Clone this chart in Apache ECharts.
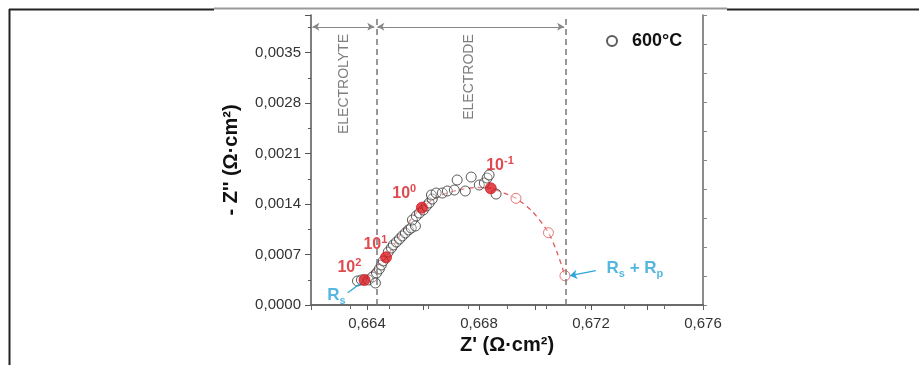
<!DOCTYPE html>
<html><head><meta charset="utf-8">
<script src="https://cdn.jsdelivr.net/npm/echarts@6/dist/echarts.min.js"></script>
<style>html,body{margin:0;padding:0;background:#fff}#c{width:919px;height:365px}</style>
</head><body><div id="c"></div>
<script>
// Experimental impedance points (Z', -Z'')
const expZre = [0.66366,0.66380,0.66405,0.66419,0.66430,0.66434,0.66444,0.66451,0.66458,0.66476,0.66487,0.66494,0.66505,0.66516,0.66526,0.66537,0.66548,0.66558,0.66573,0.66562,0.66576,0.66587,0.66601,0.66612,0.66622,0.66633,0.66630,0.66647,0.66669,0.66687,0.66712,0.66722,0.66751,0.66772,0.66801,0.66819,0.66829,0.66836,0.66861];
const expZim = [0.000333,0.000347,0.000347,0.000388,0.000305,0.000444,0.000499,0.000554,0.000610,0.000735,0.000790,0.000832,0.000873,0.000915,0.000956,0.000998,0.001040,0.001067,0.001095,0.001178,0.001234,0.001275,0.001317,0.001372,0.001414,0.001469,0.001525,0.001552,0.001552,0.001580,0.001594,0.001733,0.001580,0.001774,0.001663,0.001691,0.001760,0.001802,0.001538];
// Fitted arc
const fitZre = [0.66391,0.66430,0.66468,0.66516,0.66558,0.66596,0.66658,0.66729,0.66794,0.66842,0.66890,0.66932,0.66991,0.67048,0.67080,0.67107];
const fitZim = [0.000347,0.000513,0.000661,0.000956,0.001192,0.001349,0.001511,0.001594,0.001629,0.001618,0.001552,0.001479,0.001293,0.001002,0.000717,0.000406];
// Extrapolated (open red) points
const extZre = [0.66932,0.67048,0.67107];
const extZim = [0.001479,0.001002,0.000406];
// Frequency markers
const freqZre = [0.66391,0.66468,0.66596,0.66842];
const freqZim = [0.000347,0.000661,0.001349,0.001618];
const freqExp = ['2','1','0','-1'];
const freqLabelZre = [0.66337,0.66430,0.66533,0.66875];
const freqLabelZim = [0.000513,0.000832,0.001538,0.001927];
// Region boundaries and labels
const boundaryZre = [0.66436,0.67110];
const regionNames = ['ELECTROLYTE','ELECTRODE'];
const regionLabelZre = [0.66319,0.66765];
const regionLabelZim = [0.003063,0.003160];
const arrowZim = 0.003857;
const arrowStart = [0.66205,0.66437];
const arrowEnd = [0.66426,0.67104];
// Resistance annotations
const resLabelZre = [0.66291,0.67357];
const resLabelZim = [0.000139,0.000513];
const resText = ['{r|R}{s|s}','{r|R}{s|s}{r| + R}{s|p}'];
const resPtrFrom = [[0.66378,0.000301],[0.67217,0.000475]];
const resPtrTo = [[0.66331,0.000170],[0.67125,0.000406]];
const Y_MIN = 0, Y_MAX = 0.00402;

const zip = (a,b) => a.map((v,i)=>[v,b[i]]);
const FONT = 'Liberation Sans, Arial, sans-serif';
const RED = '#d81c22';
const CYAN = '#2aa5d8';

const annData = [];
freqExp.forEach((e,i)=>annData.push({value:[freqLabelZre[i],freqLabelZim[i]],
  label:{formatter:'{b|10}{sup|'+e+'}'}}));
regionNames.forEach((n,i)=>annData.push({value:[regionLabelZre[i],regionLabelZim[i]],
  label:{formatter:n, rotate:90, color:'#5e5e5e', fontSize:14, fontWeight:'normal'}}));
resText.forEach((t,i)=>annData.push({value:[resLabelZre[i],resLabelZim[i]], label:{formatter:t}}));

const chart = echarts.init(document.getElementById('c'), null, {renderer:'canvas'});
chart.setOption({
  animation:false,
  backgroundColor:'#fff',
  textStyle:{fontFamily:FONT},
  grid:{left:311, right:216, top:15, bottom:60},
  legend:{
    data:['600°C'], left:601, top:27, itemWidth:10, itemHeight:10, icon:'circle',
    textStyle:{fontSize:18, fontWeight:'bold', color:'#111', fontFamily:FONT, padding:[0,0,0,10]}
  },
  xAxis:[{
    type:'value', min:0.662, max:0.676, interval:0.002,
    name:"Z' (Ω·cm²)", nameLocation:'middle', nameGap:30,
    nameTextStyle:{fontSize:20, fontWeight:'bold', color:'#111', fontFamily:FONT},
    axisLine:{lineStyle:{color:'#555', width:1.5}},
    axisTick:{show:true, inside:false, length:5, lineStyle:{color:'#555'}},
    splitLine:{show:false},
    axisLabel:{fontSize:15, color:'#333', margin:11, fontFamily:FONT,
      formatter:v=>{const k=Math.round(v*1000); return (k%4===0)? (k/1000).toFixed(3).replace('.',','):'';}}
  },{
    type:'value', position:'top', min:0, max:10, interval:1,
    axisLine:{show:true, lineStyle:{color:'#666', width:1.5}},
    axisTick:{show:true, inside:true, length:4, lineStyle:{color:'#666'}},
    axisLabel:{show:false}, splitLine:{show:false}
  }],
  yAxis:[{
    type:'value', min:Y_MIN, max:Y_MAX, interval:0.0007,
    name:"- Z'' (Ω·cm²)", nameLocation:'middle', nameGap:70,
    nameTextStyle:{fontSize:20, fontWeight:'bold', color:'#111', fontFamily:FONT},
    axisLine:{show:true, lineStyle:{color:'#555', width:1.5}},
    axisTick:{show:true, inside:false, length:6, lineStyle:{color:'#555'}},
    minorTick:{show:true, splitNumber:2, length:3, lineStyle:{color:'#555'}},
    splitLine:{show:false}, minorSplitLine:{show:false},
    axisLabel:{fontSize:15, color:'#333', margin:10, showMaxLabel:false, fontFamily:FONT,
      formatter:v=>{const k=Math.round(v*1e5); return (k%70===0)? v.toFixed(4).replace('.',','):'';}}
  },{
    type:'value', position:'right', min:0, max:10, interval:1,
    axisLine:{show:true, lineStyle:{color:'#666', width:1.5}},
    axisTick:{show:true, inside:false, length:4, lineStyle:{color:'#888'}},
    axisLabel:{show:false}, splitLine:{show:false}
  }],
  series:[
    {
      name:'fit', type:'line', data:zip(fitZre,fitZim), symbol:'none', smooth:0.3, z:3,
      lineStyle:{color:'#e05a5a', width:1.3, type:[5,4]}, silent:true
    },
    {
      name:'600°C', type:'scatter', data:zip(expZre,expZim), symbol:'circle', symbolSize:10, z:4,
      itemStyle:{color:'rgba(255,255,255,0.35)', borderColor:'#333', borderWidth:1},
      markLine:{
        silent:true, symbol:'none', label:{show:false}, precision:6,
        lineStyle:{color:'#777', width:1.5, type:[6,4]},
        data:boundaryZre.map(v=>[{coord:[v,Y_MIN]},{coord:[v,Y_MAX]}])
      }
    },
    {
      name:'ext', type:'scatter', data:zip(extZre,extZim), symbol:'circle', symbolSize:10, z:4,
      itemStyle:{color:'rgba(255,255,255,0.5)', borderColor:'#e05555', borderWidth:1}
    },
    {
      name:'freq', type:'scatter', data:zip(freqZre,freqZim), symbol:'circle', symbolSize:11, z:5,
      itemStyle:{color:RED, borderColor:RED},
      markLine:{
        silent:true, label:{show:false}, symbolSize:7, precision:6,
        data:resPtrFrom.map((p,i)=>[
          {coord:p, symbol:'none', lineStyle:{color:CYAN, width:1.3, type:'solid'}},
          {coord:resPtrTo[i], symbol: i===0?'none':'arrow'}
        ])
      }
    },
    {
      name:'ann', type:'scatter', data:annData, symbolSize:0, z:6, silent:true,
      label:{show:true, position:'inside', fontFamily:FONT,
        rich:{
          b:{fontSize:16, fontWeight:'bold', color:RED, lineHeight:21, fontFamily:FONT},
          sup:{fontSize:11, fontWeight:'bold', color:RED, lineHeight:12, verticalAlign:'top', fontFamily:FONT},
          r:{fontSize:17, fontWeight:'bold', color:CYAN, lineHeight:22, fontFamily:FONT},
          s:{fontSize:11, fontWeight:'bold', color:CYAN, lineHeight:11, verticalAlign:'bottom', fontFamily:FONT}
        }
      },
      markLine:{
        silent:true, label:{show:false}, symbol:['arrow','arrow'], symbolSize:[6,7], precision:6,
        lineStyle:{color:'#888', width:1.2, type:'solid'},
        data:arrowStart.map((s,i)=>[{coord:[s,arrowZim]},{coord:[arrowEnd[i],arrowZim]}])
      }
    }
  ],
  graphic:[
    {type:'line', shape:{x1:9.5,y1:9,x2:9.5,y2:365}, style:{stroke:'#222', lineWidth:2}},
    {type:'line', shape:{x1:9,y1:9.5,x2:214,y2:9.5}, style:{stroke:'#222', lineWidth:2}},
    {type:'line', shape:{x1:214,y1:8.5,x2:727,y2:8.5}, style:{stroke:'#999', lineWidth:2}},
    {type:'line', shape:{x1:727,y1:9.5,x2:919,y2:9.5}, style:{stroke:'#222', lineWidth:2}}
  ]
});
</script></body></html>
